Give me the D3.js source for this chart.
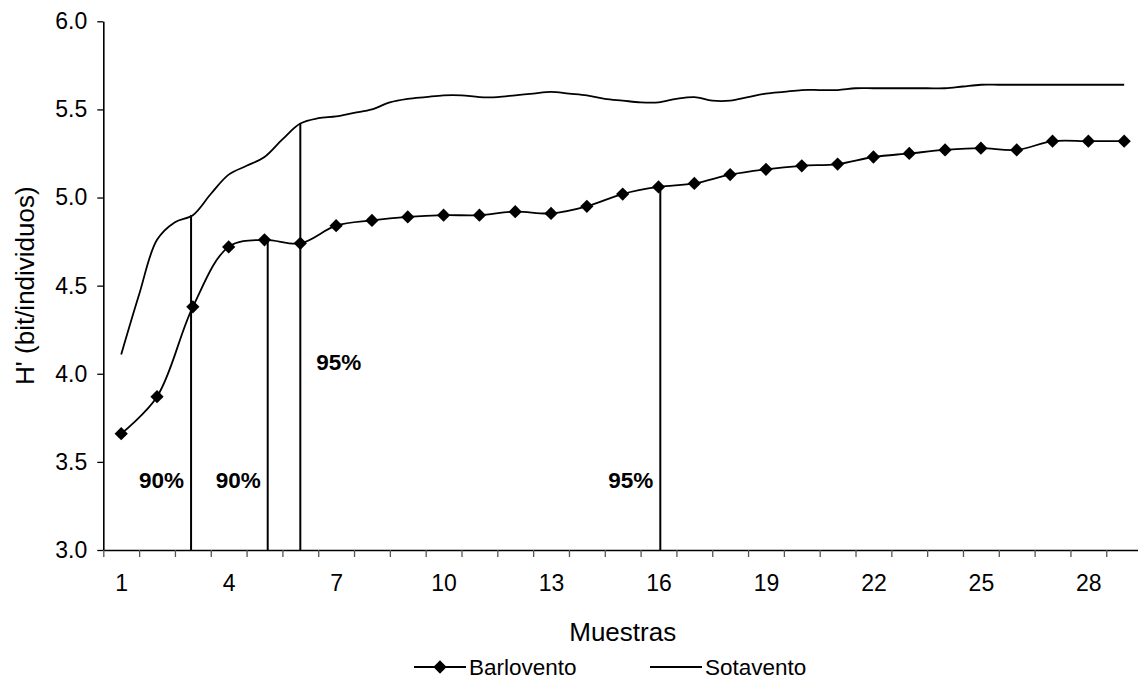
<!DOCTYPE html>
<html>
<head>
<meta charset="utf-8">
<script src="https://cdn.jsdelivr.net/npm/d3@7"></script>
<style>
  html, body { margin: 0; padding: 0; background: #fff; }
  svg { display: block; font-family: "Liberation Sans", Arial, sans-serif; }
</style>
</head>
<body>
<svg id="chart" width="1138" height="683"></svg>
<script>
// Sample numbers (categories on the x axis)
const samples = d3.range(1, 30);

// Barlovento: Shannon diversity H' per cumulative sample
const barlovento = [3.66, 3.87, 4.38, 4.72, 4.76, 4.74, 4.84, 4.87, 4.89, 4.90,
                    4.90, 4.92, 4.91, 4.95, 5.02, 5.06, 5.08, 5.13, 5.16, 5.18,
                    5.19, 5.23, 5.25, 5.27, 5.28, 5.27, 5.32, 5.32, 5.32];

// Sotavento: H' sampled every half step (1, 1.5, 2, ... 29)
const sotaventoSteps = d3.range(1, 29.01, 0.5);
const sotavento = [4.11, 4.45, 4.76, 4.86, 4.90, 5.02, 5.13, 5.18, 5.23, 5.33,
                   5.42, 5.45, 5.46, 5.48, 5.50, 5.54, 5.56, 5.57, 5.58, 5.58,
                   5.57, 5.57, 5.58, 5.59, 5.60, 5.59, 5.58, 5.56, 5.55, 5.54,
                   5.54, 5.56, 5.57, 5.55, 5.55, 5.57, 5.59, 5.60, 5.61, 5.61,
                   5.61, 5.62, 5.62, 5.62, 5.62, 5.62, 5.62, 5.63, 5.64, 5.64,
                   5.64, 5.64, 5.64, 5.64, 5.64, 5.64, 5.64];

// Y axis ticks and labelled x ticks
const yTicks = [3.0, 3.5, 4.0, 4.5, 5.0, 5.5, 6.0];
const xTickLabels = [1, 4, 7, 10, 13, 16, 19, 22, 25, 28];

// Saturation reference lines: sample position, height reached, label and label placement
const markerLines = [
  { sample: 2.95, top: 4.90, label: "90%", side: "left",  labelY: 3.35 },
  { sample: 5.09, top: 4.76, label: "90%", side: "left",  labelY: 3.35 },
  { sample: 6.00, top: 5.42, label: "95%", side: "right", labelY: 4.02 },
  { sample: 16.05, top: 5.04, label: "95%", side: "left", labelY: 3.35 }
];

const svg = d3.select("#chart");
const plotLeft = 103.3, plotTop = 21.3, plotBottom = 550, bandW = 35.82;
const plotRight = plotLeft + samples.length * bandW;

const x = d3.scaleLinear().domain([0.5, samples.length + 0.5]).range([plotLeft, plotRight]);
const y = d3.scaleLinear().domain([3, 6]).range([plotBottom, plotTop]);

// Y axis
const yAxis = svg.append("g")
  .attr("transform", `translate(${plotLeft},0)`)
  .call(d3.axisLeft(y).tickValues(yTicks).tickFormat(d3.format(".1f"))
        .tickSizeInner(6).tickSizeOuter(0).tickPadding(10));
yAxis.selectAll("text").attr("font-size", 23).attr("fill", "#000");
yAxis.selectAll("line, path").attr("stroke", "#000").attr("stroke-width", 1.3);
yAxis.select(".domain").attr("stroke-width", 1.6);

// X axis: tick marks between categories
const xAxis = svg.append("g")
  .attr("transform", `translate(0,${plotBottom})`)
  .call(d3.axisBottom(x).tickValues(d3.range(0.5, samples.length + 0.6, 1))
        .tickFormat("").tickSizeInner(7).tickSizeOuter(0));
xAxis.selectAll("line").attr("stroke", "#555").attr("stroke-width", 1.3);
xAxis.select(".domain").attr("stroke", "#000").attr("stroke-width", 1.6);

// X labels every third sample
const xLab = svg.append("g")
  .attr("transform", `translate(0,${plotBottom})`)
  .call(d3.axisBottom(x).tickValues(xTickLabels).tickFormat(d3.format("d"))
        .tickSize(0).tickPadding(25));
xLab.select(".domain").remove();
xLab.selectAll("text").attr("font-size", 23).attr("fill", "#000");

// Axis titles
svg.append("text")
  .attr("x", (plotLeft + plotRight) / 2).attr("y", 641)
  .attr("text-anchor", "middle").attr("font-size", 26)
  .text("Muestras");
svg.append("text")
  .attr("transform", `translate(34,${(plotTop + plotBottom) / 2}) rotate(-90)`)
  .attr("text-anchor", "middle").attr("font-size", 26)
  .text("H' (bit/individuos)");

// Reference lines and their labels
const refs = svg.append("g");
refs.selectAll("line").data(markerLines).join("line")
  .attr("x1", d => x(d.sample)).attr("x2", d => x(d.sample))
  .attr("y1", y(3)).attr("y2", d => y(d.top))
  .attr("stroke", "#000").attr("stroke-width", 2);
refs.selectAll("text").data(markerLines).join("text")
  .attr("x", d => x(d.sample) + (d.side === "left" ? -7 : 16))
  .attr("y", d => y(d.labelY))
  .attr("text-anchor", d => d.side === "left" ? "end" : "start")
  .attr("font-size", 22.5).attr("font-weight", "bold")
  .text(d => d.label);

// Series lines (smoothed)
const smooth = d3.line().curve(d3.curveCatmullRom.alpha(0.5));
svg.append("path")
  .attr("d", smooth(sotaventoSteps.map((s, i) => [x(s), y(sotavento[i])])))
  .attr("fill", "none").attr("stroke", "#000").attr("stroke-width", 1.8);
svg.append("path")
  .attr("d", smooth(samples.map((s, i) => [x(s), y(barlovento[i])])))
  .attr("fill", "none").attr("stroke", "#000").attr("stroke-width", 1.8);

// Diamond markers for Barlovento
const diamond = d3.symbol(d3.symbolSquare, 88);
svg.append("g").selectAll("path").data(samples).join("path")
  .attr("d", diamond)
  .attr("transform", (s, i) => `translate(${x(s)},${y(barlovento[i])}) rotate(45)`)
  .attr("fill", "#000");

// Legend
const legendY = 667;
const legend = svg.append("g");
const items = [
  { name: "Barlovento", x0: 414, marker: true },
  { name: "Sotavento", x0: 650, marker: false }
];
items.forEach(it => {
  legend.append("line")
    .attr("x1", it.x0).attr("x2", it.x0 + 52)
    .attr("y1", legendY).attr("y2", legendY)
    .attr("stroke", "#000").attr("stroke-width", 1.8);
  if (it.marker) {
    legend.append("path").attr("d", diamond)
      .attr("transform", `translate(${it.x0 + 26},${legendY}) rotate(45)`)
      .attr("fill", "#000");
  }
  legend.append("text")
    .attr("x", it.x0 + 55).attr("y", legendY + 8)
    .attr("font-size", 22.5)
    .text(it.name);
});
</script>
</body>
</html>
